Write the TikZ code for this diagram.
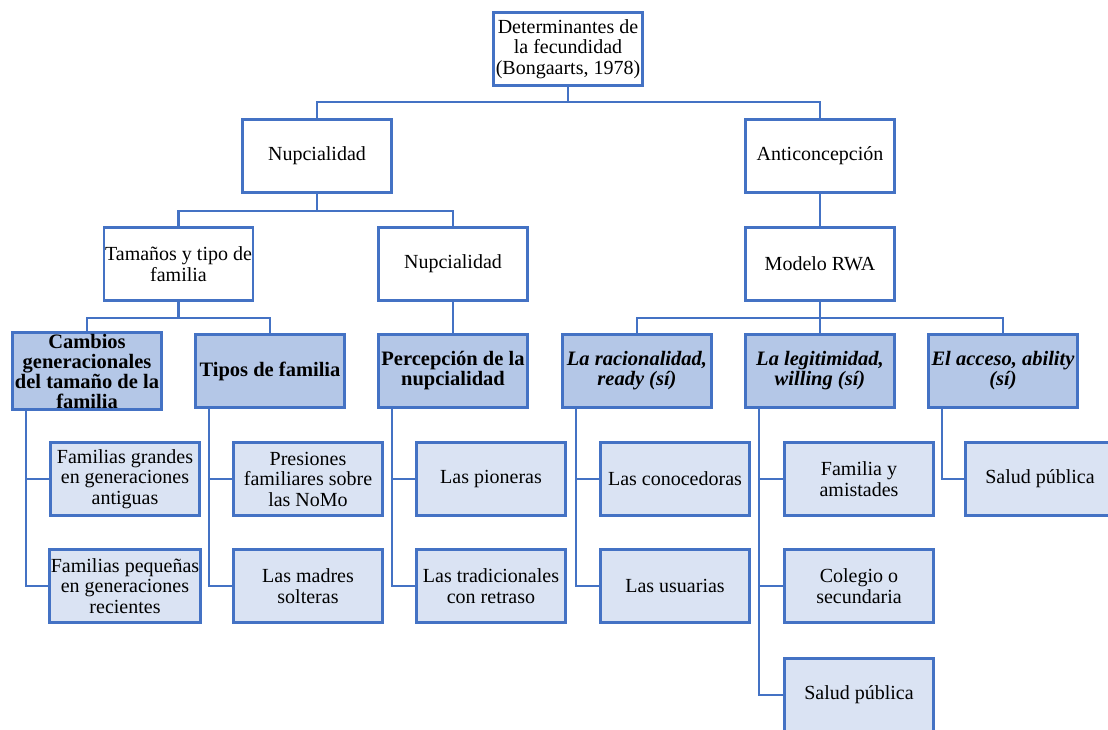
\documentclass[tikz,border=0pt]{standalone}
\usepackage{fontspec}
\setmainfont{Liberation Serif}
\definecolor{bordblue}{HTML}{4472C4}
\definecolor{midfill}{HTML}{B4C7E7}
\definecolor{lightfill}{HTML}{DAE3F3}
\begin{document}
\begin{tikzpicture}[x=1pt,y=-1pt,
  box/.style={draw=bordblue, line width=2.8pt, minimum width=149pt, minimum height=73pt,
    inner sep=1pt, align=center, font=\fontsize{20}{20.5}\selectfont, fill=white},
  midbox/.style={box, fill=midfill, font=\fontsize{20.5}{20}\selectfont\bfseries},
  leafbox/.style={box, fill=lightfill},
  conn/.style={draw=bordblue, line width=2.2pt}
]
\useasboundingbox (0,0) rectangle (1108,729);
\fill[white] (0,0) rectangle (1108,729);

% level 0
\node[box] (top) at (568,49) {Determinantes de\\la fecundidad\\(Bongaarts, 1978)};
% level 1
\node[box] (nup1) at (317,156) {Nupcialidad};
\node[box] (anti) at (820,156) {Anticoncepción};
% level 2
\node[box] (tam) at (178.5,264) {Tamaños y tipo de\\familia};
\node[box] (nup2) at (453,264) {Nupcialidad};
\node[box] (rwa) at (820,264) {Modelo RWA};
% level 3
\node[midbox] (cam) at (87,371) {Cambios\\generacionales\\del tamaño de la\\familia};
\node[midbox] (tip) at (270,371) {Tipos de familia};
\node[midbox] (per) at (453,371) {Percepción de la\\nupcialidad};
\node[midbox] (rac) at (637,371) {\itshape La racionalidad,\\\itshape ready (sí)};
\node[midbox] (leg) at (820,371) {\itshape La legitimidad,\\\itshape willing (sí)};
\node[midbox] (acc) at (1003,371) {\itshape El acceso, ability\\\itshape (sí)};
% level 4
\node[leafbox] (fg) at (125,479) {Familias grandes\\en generaciones\\antiguas};
\node[leafbox] (fp) at (125,586) {Familias pequeñas\\en generaciones\\recientes};
\node[leafbox] (pres) at (308,479) {Presiones\\familiares sobre\\las NoMo};
\node[leafbox] (mad) at (308,586) {Las madres\\solteras};
\node[leafbox] (pio) at (491,479) {Las pioneras};
\node[leafbox] (tra) at (491,586) {Las tradicionales\\con retraso};
\node[leafbox] (con) at (675,479) {Las conocedoras};
\node[leafbox] (usu) at (675,586) {Las usuarias};
\node[leafbox] (fam) at (859,479) {Familia y\\amistades};
\node[leafbox] (col) at (859,586) {Colegio o\\secundaria};
\node[leafbox] (sal) at (859,695) {Salud pública};
\node[leafbox] (sal2) at (1040,479) {Salud pública};

% junction coordinates
\coordinate (j0) at (568,102);
\coordinate (j1) at (317,211);
\coordinate (j2) at (178.5,318);
\coordinate (j3) at (820,318);

% connectors level 0-1
\draw[conn] (top.south) -- (j0);
\draw[conn] (j0) -| (nup1.north);
\draw[conn] (j0) -| (anti.north);
% level 1-2
\draw[conn] (nup1.south) -- (j1);
\draw[conn] (j1) -| (tam.north);
\draw[conn] (j1) -| (nup2.north);
\draw[conn] (anti.south) -- (rwa.north);
% level 2-3
\draw[conn] (tam.south) -- (j2);
\draw[conn] (j2) -| (cam.north);
\draw[conn] (j2) -| (tip.north);
\draw[conn] (nup2.south) -- (per.north);
\draw[conn] (rwa.south) -- (j3);
\draw[conn] (j3) -| (rac.north);
\draw[conn] (j3) -| (leg.north);
\draw[conn] (j3) -| (acc.north);
% level 3-4
\draw[conn] ([xshift=15pt]cam.south west) |- (fg.west);
\draw[conn] ([xshift=15pt]cam.south west) |- (fp.west);
\draw[conn] ([xshift=15pt]tip.south west) |- (pres.west);
\draw[conn] ([xshift=15pt]tip.south west) |- (mad.west);
\draw[conn] ([xshift=15pt]per.south west) |- (pio.west);
\draw[conn] ([xshift=15pt]per.south west) |- (tra.west);
\draw[conn] ([xshift=15pt]rac.south west) |- (con.west);
\draw[conn] ([xshift=15pt]rac.south west) |- (usu.west);
\draw[conn] ([xshift=15pt]leg.south west) |- (fam.west);
\draw[conn] ([xshift=15pt]leg.south west) |- (col.west);
\draw[conn] ([xshift=15pt]leg.south west) |- (sal.west);
\draw[conn] ([xshift=15pt]acc.south west) |- (sal2.west);
\end{tikzpicture}
\end{document}
